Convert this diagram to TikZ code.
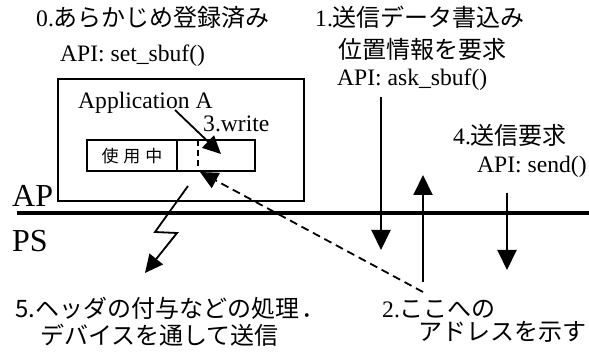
\documentclass[tikz,border=0pt]{standalone}
\usepackage{fontspec}
\setmainfont{Liberation Serif}
\newfontfamily\cjk{Noto Sans CJK JP}
\usetikzlibrary{arrows.meta}
\newcommand\jtext[1]{{\cjk\fontsize{24}{28}\selectfont #1}}
\begin{document}
\begin{tikzpicture}[x=1pt,y=-1pt,
  lbl/.style={anchor=base west,inner sep=0pt,font=\fontsize{23.6}{26}\selectfont},
  big/.style={anchor=base west,inner sep=0pt,font=\fontsize{32}{34}\selectfont},
  thinbox/.style={draw,line width=1.5pt},
  arr/.style={line width=2pt,-{Triangle[length=20pt,width=19pt]}},
  sarr/.style={line width=1.8pt,-{Triangle[length=18pt,width=17pt]}},
]
\useasboundingbox (0,0) rectangle (589,352);

% texts
\node[lbl] (t0) at (36,27) {0.\jtext{あらかじめ登録済み}};
\node[lbl] (t0a) at (60,62) {API: set\_sbuf()};
\node[lbl] (t1) at (315,27) {1.\jtext{送信データ書込み}};
\node[lbl] (t1b) at (338,59) {\jtext{位置情報を要求}};
\node[lbl] (t1a) at (337,86) {API: ask\_sbuf()};
\node[lbl] (t4) at (453,145) {4.\jtext{送信要求}};
\node[lbl] (t4a) at (477,173) {API: send()};
\node[lbl] (t2) at (382,318) {2.\jtext{ここへの}};
\node[lbl] (t2b) at (418,341) {\jtext{アドレスを示す}};
\node[lbl] (t5) at (15,318) {\jtext{5.ヘッダの付与などの処理\hspace{2pt}．}};
\node[lbl] (t5b) at (40,345) {\jtext{デバイスを通して送信}};
\node[big] (ap) at (12,207) {AP};
\node[big] (ps) at (12,252) {PS};

% application box
\draw[thinbox] (58,79) rectangle (304,201);
\node[lbl] (app) at (78,109) {Application A};
\node[lbl] (wr) at (203,132) {3.write};

% buffer
\draw[thinbox] (87,140) rectangle (255,171);
\draw[line width=1.5pt] (177,140) -- (177,171);
\draw[line width=1.5pt,dash pattern=on 6pt off 4pt] (198,140) -- (198,171);
\node[inner sep=0pt] (used) at (132,156) {\cjk\fontsize{17}{20}\selectfont 使\hspace{5pt}用\hspace{5pt}中};

% AP/PS line
\draw[line width=4pt] (17,213) -- (589,213);

% coordinates
\coordinate (wS) at (175,110);
\coordinate (wE) at (221,154);
\coordinate (dS) at (423,292);
\coordinate (dE) at (200,172);
\coordinate (l1) at (188,186);
\coordinate (l2) at (155,232);
\coordinate (l3) at (177,233);
\coordinate (l4) at (145,273);
\coordinate (a1S) at (381,97);
\coordinate (a1E) at (381,250);
\coordinate (a2S) at (423,282);
\coordinate (a2E) at (423,175);
\coordinate (a4S) at (507,193);
\coordinate (a4E) at (507,270);

\draw[sarr] (wS) -- (wE);
\draw[sarr,dash pattern=on 8pt off 5pt] (dS) -- (dE);
\draw[sarr] (l1) -- (l2) -- (l3) -- (l4);
\draw[arr] (a1S) -- (a1E);
\draw[arr] (a2S) -- (a2E);
\draw[arr] (a4S) -- (a4E);
\end{tikzpicture}
\end{document}
